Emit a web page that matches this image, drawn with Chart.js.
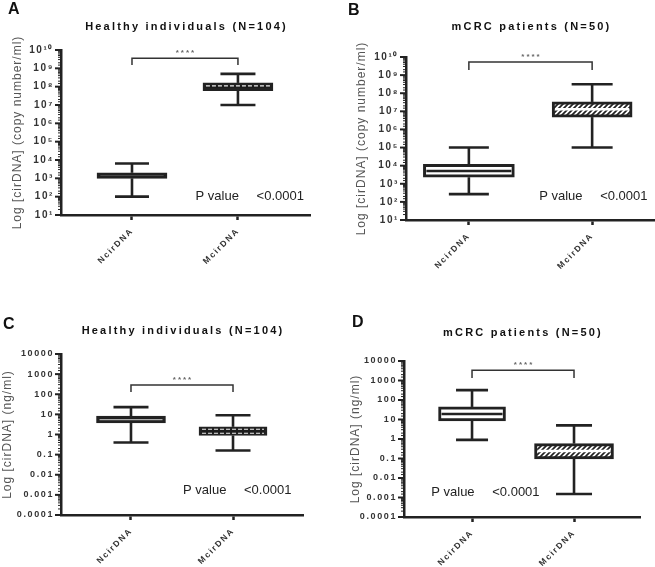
<!DOCTYPE html>
<html>
<head>
<meta charset="utf-8">
<script src="https://cdn.jsdelivr.net/npm/chart.js@4.4.1/dist/chart.umd.min.js"></script>
<style>
  html, body { margin: 0; padding: 0; background: #fff; }
  #wrap { position: relative; width: 655px; height: 567px; overflow: hidden; }
  #wrap canvas { position: absolute; }
</style>
</head>
<body>
<div id="wrap">
  <canvas id="chartA" width="327" height="290" style="left:0;top:0"></canvas>
  <canvas id="chartB" width="328" height="290" style="left:327px;top:0"></canvas>
  <canvas id="chartC" width="327" height="277" style="left:0;top:290px"></canvas>
  <canvas id="chartD" width="328" height="277" style="left:327px;top:290px"></canvas>
</div>
<script>
const groups = ['NcirDNA', 'McirDNA'];

// A - copy number/ml, healthy individuals
const healthyCopyMin = [100, 1.0e7];
const healthyCopyQ1 = [1000, 6.0e7];
const healthyCopyMedian = [1400, 1.1e8];
const healthyCopyQ3 = [2000, 1.6e8];
const healthyCopyMax = [6500, 5.0e8];

// B - copy number/ml, mCRC patients
const crcCopyMin = [270, 1.0e5];
const crcCopyQ1 = [2300, 4.8e6];
const crcCopyMedian = [5000, 1.3e7];
const crcCopyQ3 = [12000, 3.3e7];
const crcCopyMax = [1.0e5, 3.1e8];

// C - ng/ml, healthy individuals
const healthyNgMin = [0.4, 0.16];
const healthyNgQ1 = [3.8, 0.9];
const healthyNgMedian = [5.5, 1.45];
const healthyNgQ3 = [8.2, 2.4];
const healthyNgMax = [23, 9];

// D - ng/ml, mCRC patients
const crcNgMin = [0.9, 0.0015];
const crcNgQ1 = [8.4, 0.094];
const crcNgMedian = [19, 0.24];
const crcNgQ3 = [44, 0.58];
const crcNgMax = [320, 5];

const pValueText = ['P value', '<0.0001'];
const starsText = '****';

const FONT = '"Liberation Sans", Arial, sans-serif';
const INK = '#222';

function isDecade(v) {
    const l = Math.log10(v);
    return Math.abs(l - Math.round(l)) < 1e-6;
}
const supDigits = '⁰¹²³⁴⁵⁶⁷⁸⁹';
function copyLabel(v) {
    if (!isDecade(v)) return '';
    const e = String(Math.round(Math.log10(v)));
    return '10' + e.split('').map(d => supDigits[+d]).join('');
}
function ngLabel(v) {
    if (!isDecade(v)) return '';
    const e = Math.round(Math.log10(v));
    return e >= 0 ? String(Math.pow(10, e)) : Math.pow(10, e).toFixed(-e);
}

// hatch pattern for the striped boxes
function makeHatch() {
    const c = document.createElement('canvas');
    c.width = 5; c.height = 5;
    const g = c.getContext('2d');
    g.fillStyle = '#fff';
    g.fillRect(0, 0, 5, 5);
    g.strokeStyle = INK;
    g.lineWidth = 1.7;
    g.beginPath();
    g.moveTo(-1, 6); g.lineTo(6, -1);
    g.moveTo(-1, 1); g.lineTo(1, -1);
    g.moveTo(4, 6); g.lineTo(6, 4);
    g.stroke();
    return document.createElement('canvas').getContext('2d').createPattern(c, 'repeat');
}
const hatch = makeHatch();
const fills = { dark: '#1c1c1c', white: '#fff', hatch: hatch };

const panels = [
    {
        id: 'chartA', letter: 'A', title: 'Healthy individuals (N=104)', yTitle: 'Log [cirDNA] (copy number/ml)',
        min: healthyCopyMin, q1: healthyCopyQ1, med: healthyCopyMedian, q3: healthyCopyQ3, max: healthyCopyMax,
        yMin: 10, yMax: 1e10, label: copyLabel, tickSize: 10,
        pad: { left: 11, right: 17, top: 50, bottom: 10 }, xH: 65, xMin: -0.67, xMax: 1.68,
        letterPos: [8, 2], titleY: 27, yTitleX: 18,
        boxW: [70, 70], capW: [34, 35], fill: ['dark', 'dark'], median: ['none', 'dash'],
        bracket: [3.6e9, 1.5e9], pAt: [0.6, 100]
    },
    {
        id: 'chartB', letter: 'B', title: 'mCRC patients (N=50)', yTitle: 'Log [cirDNA] (copy number/ml)',
        min: crcCopyMin, q1: crcCopyQ1, med: crcCopyMedian, q3: crcCopyQ3, max: crcCopyMax,
        yMin: 10, yMax: 1e10, label: copyLabel, tickSize: 10,
        pad: { left: 29, right: 0, top: 57, bottom: 5 }, xH: 65, xMin: -0.51, xMax: 1.51,
        letterPos: [21, 3], titleY: 27, yTitleX: 35,
        boxW: [91, 80], capW: [40, 41], fill: ['white', 'hatch'], median: ['dark', 'white'],
        bracket: [5.3e9, 1.9e9], pAt: [0.57, 190]
    },
    {
        id: 'chartC', letter: 'C', title: 'Healthy individuals (N=104)', yTitle: 'Log [cirDNA] (ng/ml)',
        min: healthyNgMin, q1: healthyNgQ1, med: healthyNgMedian, q3: healthyNgQ3, max: healthyNgMax,
        yMin: 1e-4, yMax: 1e4, label: ngLabel, tickSize: 9,
        pad: { left: 11, right: 24, top: 64, bottom: 0 }, xH: 52, xMin: -0.686, xMax: 1.686,
        letterPos: [3, 27], titleY: 41, yTitleX: 8,
        boxW: [69, 68], capW: [35, 35], fill: ['dark', 'dark'], median: ['light', 'dash2'],
        bracket: [290, 130], pAt: [0.51, 0.0017]
    },
    {
        id: 'chartD', letter: 'D', title: 'mCRC patients (N=50)', yTitle: 'Log [cirDNA] (ng/ml)',
        min: crcNgMin, q1: crcNgQ1, med: crcNgMedian, q3: crcNgQ3, max: crcNgMax,
        yMin: 1e-4, yMax: 1e4, label: ngLabel, tickSize: 9,
        pad: { left: 27, right: 15, top: 71, bottom: 0 }, xH: 50, xMin: -0.667, xMax: 1.647,
        letterPos: [25, 25], titleY: 43, yTitleX: 29,
        boxW: [67, 79], capW: [32, 36], fill: ['white', 'hatch'], median: ['dark', 'white'],
        bracket: [3400, 1350], pAt: [-0.40, 0.0019]
    }
];

function line(ctx, x1, y1, x2, y2) {
    ctx.beginPath();
    ctx.moveTo(x1, y1);
    ctx.lineTo(x2, y2);
    ctx.stroke();
}

function makeExtras(p) {
    return {
        id: 'boxExtras',
        beforeDraw(chart) {
            chart.ctx.letterSpacing = '1.6px';
        },
        afterDatasetsDraw(chart) {
            const ctx = chart.ctx;
            const xs = chart.scales.x, ys = chart.scales.y;
            ctx.save();
            ctx.strokeStyle = INK;
            groups.forEach((g, i) => {
                const cx = xs.getPixelForValue(i);
                const yMin = ys.getPixelForValue(p.min[i]);
                const yMax = ys.getPixelForValue(p.max[i]);
                const yQ1 = ys.getPixelForValue(p.q1[i]);
                const yQ3 = ys.getPixelForValue(p.q3[i]);
                const yMed = ys.getPixelForValue(p.med[i]);
                const half = p.capW[i] / 2;
                ctx.setLineDash([]);
                ctx.strokeStyle = INK;
                ctx.lineWidth = 2.6;
                line(ctx, cx, yQ3, cx, yMax);
                line(ctx, cx, yQ1, cx, yMin);
                line(ctx, cx - half, yMax, cx + half, yMax);
                line(ctx, cx - half, yMin, cx + half, yMin);

                // median
                const xl = cx - p.boxW[i] / 2 + 3, xr = cx + p.boxW[i] / 2 - 3;
                const style = p.median[i];
                if (style === 'dark') {
                    ctx.lineWidth = 2.5;
                    line(ctx, xl, yMed, xr, yMed);
                } else if (style === 'white') {
                    ctx.strokeStyle = '#fff';
                    ctx.lineWidth = 2.5;
                    line(ctx, xl, yMed, xr, yMed);
                } else if (style === 'light') {
                    ctx.strokeStyle = '#aaa';
                    ctx.lineWidth = 1.4;
                    line(ctx, xl, yMed, xr, yMed);
                } else if (style === 'dash') {
                    ctx.strokeStyle = '#eee';
                    ctx.lineWidth = 1.3;
                    ctx.setLineDash([4, 2]);
                    line(ctx, xl, yMed, xr, yMed);
                } else if (style === 'dash2') {
                    ctx.strokeStyle = '#eee';
                    ctx.lineWidth = 1.2;
                    ctx.setLineDash([4, 2]);
                    line(ctx, xl, yMed - 2, xr, yMed - 2);
                    line(ctx, xl, yMed + 2, xr, yMed + 2);
                }
            });
            ctx.restore();
        },
        afterDraw(chart) {
            const ctx = chart.ctx;
            const ca = chart.chartArea;
            const xs = chart.scales.x, ys = chart.scales.y;
            ctx.save();
            ctx.setLineDash([]);

            // y tick marks (major and minor)
            ctx.strokeStyle = INK;
            ys.ticks.forEach(t => {
                const major = isDecade(t.value);
                const y = ys.getPixelForValue(t.value);
                ctx.lineWidth = major ? 2 : 1;
                line(ctx, ca.left - (major ? 6 : 3), y, ca.left, y);
            });

            // significance bracket
            const bx0 = xs.getPixelForValue(0), bx1 = xs.getPixelForValue(1);
            const bTop = ys.getPixelForValue(p.bracket[0]);
            const bLeg = ys.getPixelForValue(p.bracket[1]);
            ctx.lineWidth = 1.5;
            ctx.strokeStyle = '#333';
            ctx.beginPath();
            ctx.moveTo(bx0, bLeg);
            ctx.lineTo(bx0, bTop);
            ctx.lineTo(bx1, bTop);
            ctx.lineTo(bx1, bLeg);
            ctx.stroke();

            ctx.fillStyle = '#666';
            ctx.font = 'bold 8px ' + FONT;
            ctx.letterSpacing = '2px';
            ctx.textAlign = 'center';
            ctx.textBaseline = 'bottom';
            ctx.fillText(starsText, (bx0 + bx1) / 2 + 1, bTop - 1);

            // P value
            ctx.fillStyle = INK;
            ctx.font = '13px ' + FONT;
            ctx.letterSpacing = '0px';
            ctx.textAlign = 'left';
            ctx.textBaseline = 'middle';
            const px = xs.getPixelForValue(p.pAt[0]);
            const py = ys.getPixelForValue(p.pAt[1]);
            ctx.fillText(pValueText[0], px, py);
            ctx.fillText(pValueText[1], px + 61, py);

            // panel letter
            ctx.fillStyle = '#111';
            ctx.font = 'bold 16px ' + FONT;
            ctx.textBaseline = 'top';
            ctx.fillText(p.letter, p.letterPos[0], p.letterPos[1]);

            // title
            ctx.font = 'bold 11px ' + FONT;
            ctx.letterSpacing = '2.2px';
            ctx.textAlign = 'center';
            ctx.textBaseline = 'middle';
            ctx.fillText(p.title, (ca.left + ca.right) / 2 + 1, p.titleY);

            // y axis title
            ctx.fillStyle = '#555';
            ctx.font = '12px ' + FONT;
            ctx.letterSpacing = '1px';
            ctx.translate(p.yTitleX, (ca.top + ca.bottom) / 2);
            ctx.rotate(-Math.PI / 2);
            ctx.fillText(p.yTitle, 0, 0);
            ctx.restore();
        }
    };
}

panels.forEach(p => {
    const ctx = document.getElementById(p.id).getContext('2d');
    new Chart(ctx, {
        type: 'bar',
        data: {
            datasets: groups.map((g, i) => ({
                label: g,
                data: [{ x: i, y: [p.q1[i], p.q3[i]] }],
                backgroundColor: fills[p.fill[i]],
                borderColor: INK,
                borderWidth: 3,
                borderSkipped: false,
                barThickness: p.boxW[i],
                grouped: false
            }))
        },
        options: {
            responsive: false,
            animation: false,
            events: [],
            layout: { padding: p.pad },
            plugins: {
                legend: { display: false },
                title: { display: false },
                tooltip: { enabled: false }
            },
            scales: {
                x: {
                    type: 'linear',
                    min: p.xMin,
                    max: p.xMax,
                    offset: false,
                    afterBuildTicks: s => { s.ticks = [{ value: 0 }, { value: 1 }]; },
                    afterFit: s => { s.height = p.xH; },
                    grid: { display: true, drawOnChartArea: false, offset: false, tickLength: 5, tickWidth: 2.5, tickColor: INK },
                    border: { display: true, color: INK, width: 2.5 },
                    ticks: {
                        autoSkip: false,
                        minRotation: 45,
                        maxRotation: 45,
                        padding: 6,
                        color: '#333',
                        font: { family: FONT, size: 8.5, weight: 'bold' },
                        callback: v => groups[v] ?? ''
                    }
                },
                y: {
                    type: 'logarithmic',
                    min: p.yMin,
                    max: p.yMax,
                    afterFit: s => { s.width = 50; },
                    grid: { display: false, drawTicks: false },
                    border: { display: true, color: INK, width: 2.5 },
                    ticks: {
                        autoSkip: false,
                        padding: 7,
                        color: '#333',
                        font: { family: FONT, size: p.tickSize, weight: 'bold' },
                        callback: v => p.label(v)
                    }
                }
            }
        },
        plugins: [makeExtras(p)]
    });
});
</script>
</body>
</html>
